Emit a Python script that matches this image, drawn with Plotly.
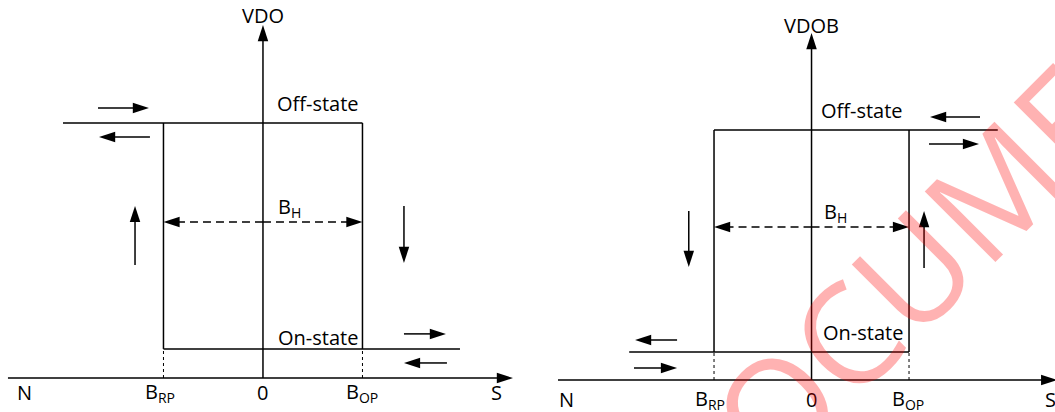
import plotly.graph_objects as go

# hysteresis diagram values (field in units of B_OP, output normalised to off-state level)
PANELS = ["VDO", "VDOB"]
B_RP = -1.0
B_OP = 1.0
V_OFF = [1.0, 1.0]
V_ON = [0.114, 0.112]
BH_LEVEL = [0.612, 0.612]

# how far the off/on levels run outside the loop
OFF_X = [[-2.01, B_OP], [B_RP, 1.91]]
ON_X = [[B_RP, 1.98], [-1.87, B_OP]]

# axis extents (tail -> tip)
XAXIS_X = [[-2.563, 2.513], [-2.60, 2.52]]
YAXIS_TOP = [1.384, 1.388]

TICK_X = [[-2.392, -1.035, 0.0, 1.0, 2.352], [-2.508, -1.041, 0.0, 0.99, 2.446]]
TICK_TEXT = ["N", "B<sub>RP</sub>", "0", "B<sub>OP</sub>", "S"]
TICK_Y = [-0.055, -0.076]

# direction arrows: (tail x, tail y, head x, head y)
DIR_ARROWS = [
    [(-1.658, 1.059, -1.146, 1.059), (-1.136, 0.945, -1.648, 0.945),
     (-1.286, 0.443, -1.286, 0.675), (1.417, 0.675, 1.417, 0.451),
     (1.417, 0.173, 1.839, 0.173), (1.849, 0.059, 1.417, 0.059)],
    [(1.728, 1.052, 1.215, 1.052), (1.205, 0.944, 1.718, 0.944),
     (-1.259, 0.676, -1.259, 0.452), (1.154, 0.448, 1.154, 0.676),
     (-1.379, 0.160, -1.810, 0.160), (-1.821, 0.048, -1.379, 0.048)],
]

OFF_LABEL = [(0.553, 1.078), (0.518, 1.080)]
ON_LABEL = [(0.553, 0.157), (0.528, 0.192)]
BH_LABEL = [(0.27, 0.668), (0.245, 0.672)]
TITLE_Y = [1.42, 1.42]

FONT = "'Open Sans', Lato, sans-serif"
BLACK = "#000000"
LW = 1.5
HEAD = 17

fig = go.Figure()
annotations = []


def seg(xr, yr, xs, ys, dash="solid", width=LW, head=False):
    # a size array makes plotly treat it as a bubble chart (opacity 0.7), so force 1
    fig.add_trace(go.Scatter(
        x=xs, y=ys, xaxis=xr, yaxis=yr,
        mode="lines+markers" if head else "lines",
        line=dict(color=BLACK, width=width, dash=dash),
        marker=dict(symbol="arrow", angleref="previous", color=BLACK, opacity=1,
                    size=[0] * (len(xs) - 1) + [HEAD], line=dict(width=0)),
        hoverinfo="skip", showlegend=False,
    ))


def label(xr, yr, x, y, text, size=20):
    annotations.append(dict(
        x=x, y=y, xref=xr, yref=yr, text=text, showarrow=False,
        xanchor="center", yanchor="middle",
        font=dict(family=FONT, size=size, color=BLACK),
    ))


for i, name in enumerate(PANELS):
    xr = "x" if i == 0 else "x2"
    yr = "y" if i == 0 else "y2"

    # loop
    seg(xr, yr, OFF_X[i], [V_OFF[i], V_OFF[i]])
    seg(xr, yr, ON_X[i], [V_ON[i], V_ON[i]])
    seg(xr, yr, [B_RP, B_RP], [V_ON[i], V_OFF[i]])
    seg(xr, yr, [B_OP, B_OP], [V_ON[i], V_OFF[i]])
    seg(xr, yr, [B_RP, B_RP], [0, V_ON[i]], dash="dot", width=1)
    seg(xr, yr, [B_OP, B_OP], [0, V_ON[i]], dash="dot", width=1)

    # axes
    seg(xr, yr, XAXIS_X[i], [0, 0], head=True)
    seg(xr, yr, [0, 0], [0, YAXIS_TOP[i]], head=True)

    # hysteresis width B_H, arrows both ways from the middle
    seg(xr, yr, [0, B_RP], [BH_LEVEL[i]] * 2, dash="8px,5px", head=True)
    seg(xr, yr, [0, B_OP], [BH_LEVEL[i]] * 2, dash="8px,5px", head=True)

    for tx, ty, hx, hy in DIR_ARROWS[i]:
        seg(xr, yr, [tx, hx], [ty, hy], head=True)

    label(xr, yr, 0, TITLE_Y[i], name)
    label(xr, yr, *OFF_LABEL[i], "Off-state")
    label(xr, yr, *ON_LABEL[i], "On-state")
    label(xr, yr, *BH_LABEL[i], "B<sub>H</sub>")
    for tx, tt in zip(TICK_X[i], TICK_TEXT):
        label(xr, yr, tx, TICK_Y[i], tt)

# watermark on top
annotations.append(dict(
    x=0.893, y=0.42, xref="paper", yref="paper", text="DOCUMENT",
    showarrow=False, textangle=-45, xanchor="center", yanchor="middle",
    font=dict(family=FONT, size=140, color="rgba(255,0,0,0.3)"),
))

fig.update_layout(
    width=1055, height=412,
    margin=dict(l=0, r=0, t=0, b=0),
    paper_bgcolor="white", plot_bgcolor="white",
    showlegend=False,
    annotations=annotations,
    xaxis=dict(domain=[0, 535 / 1055], range=[-2.643, 2.734], visible=False),
    yaxis=dict(domain=[0, 1], range=[-0.1333, 1.4824], visible=False),
    xaxis2=dict(domain=[535 / 1055, 1], range=[-2.836, 2.497], visible=False),
    yaxis2=dict(domain=[0, 1], range=[-0.128, 1.52], visible=False, anchor="x2"),
)

# drop the browser's default body margin so the figure sits at the page corner
fig.write_html("out.html", config={"displayModeBar": False},
               post_script="document.body.style.margin='0';")
